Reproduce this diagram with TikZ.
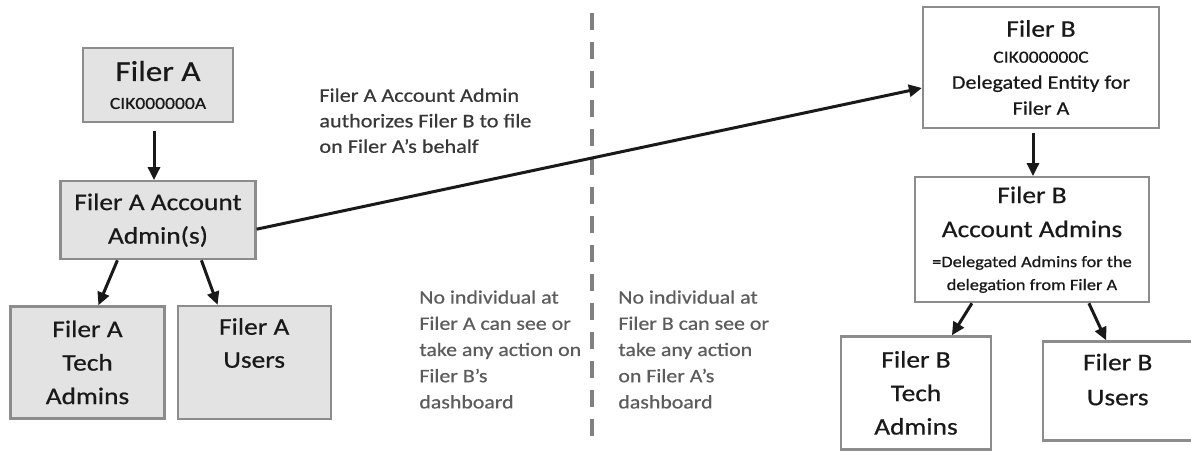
\documentclass[tikz,border=0pt]{standalone}
\usepackage{fontspec}
\setmainfont{Carlito}[FakeStretch=1.15, FakeBold=0.6]
\usetikzlibrary{arrows.meta,positioning}

\begin{document}
\begin{tikzpicture}[x=0.5pt, y=-0.5pt,
  box/.style={draw=black!45, line width=1.1pt, align=center, inner sep=0pt, text=black!90},
  boxA/.style={box, fill=black!11},
  boxB/.style={box, fill=white},
  btext/.style={align=center, inner sep=0pt, text=black!90},
  note/.style={align=left, inner sep=0pt, anchor=north west},
  arr/.style={-{Triangle[length=6.5pt,width=6pt]}, line width=1.5pt, black!90}]
\useasboundingbox (0,0) rectangle (1191,455);

\node[boxA, minimum width=75pt, minimum height=37pt, font=\fontsize{8.5pt}{14pt}\selectfont](filerA) at (158,85){{\fontsize{14.4pt}{14pt}\selectfont Filer A}\\CIK000000A};
\node[boxA, minimum width=97.5pt, minimum height=39pt, font=\fontsize{11.9pt}{16.75pt}\selectfont](acctA)[below = 28.5pt of filerA]{Filer A Account\\Admin(s)};
\node[boxA, minimum width=77pt, minimum height=56pt, font=\fontsize{11.9pt}{16.75pt}\selectfont](techA)[below = 22.5pt of acctA, xshift=-35.25pt]{Filer A\\Tech\\Admins};
\node[boxA, minimum width=76.5pt, minimum height=56.5pt](usersA)[right = 5.5pt of techA]{};
\node[btext, font=\fontsize{11.9pt}{16.5pt}\selectfont](usersAtxt)[below = 6.5pt of usersA.north]{Filer A\\Users};

\node[boxB, minimum width=118pt, minimum height=60.5pt, font=\fontsize{9.6pt}{13pt}\selectfont](filerB) at (1041,67.5){{\fontsize{11.9pt}{13pt}\selectfont Filer B}\\{\fontsize{8.5pt}{13pt}\selectfont CIK000000C}\\Delegated Entity for\\Filer A};
\node[boxB, minimum width=117pt, minimum height=62.5pt, font=\fontsize{8pt}{11.5pt}\selectfont](acctB)[below = 23.5pt of filerB, xshift=-4.5pt]{{\fontsize{11.9pt}{11.5pt}\selectfont Filer B}\\[5.5pt]{\fontsize{11.9pt}{11.5pt}\selectfont Account Admins}\\[3.5pt]=Delegated Admins for the\\delegation from Filer A};
\node[boxB, minimum width=75pt, minimum height=56.5pt, font=\fontsize{11.9pt}{16.75pt}\selectfont](techB)[below = 16pt of acctB, xshift=-58pt]{Filer B\\Tech\\Admins};
\node[boxB, minimum width=74.5pt, minimum height=49.5pt](usersB)[right = 25pt of techB, yshift=1pt]{};
\node[btext, font=\fontsize{11.9pt}{17.5pt}\selectfont](usersBtxt)[below = 6.5pt of usersB.north]{Filer B\\Users};

\node[note, text=black!78, font=\fontsize{9.65pt}{12.75pt}\selectfont](authnote) at (319,88){Filer A Account Admin\\authorizes Filer B to file\\on Filer A's behalf};
\node[note, text=black!64, font=\fontsize{9.5pt}{13.1pt}\selectfont](noteA) at (419,290){No individual at\\Filer A can see or\\take any action on\\Filer B's\\dashboard};
\node[note, text=black!64, font=\fontsize{9.5pt}{13.1pt}\selectfont](noteB) at (618,290){No individual at\\Filer B can see or\\take any action\\on Filer A's\\dashboard};

\coordinate (divtop) at (592,13);
\coordinate (divbot) at (592,442);
\draw[black!50, line width=2pt, dash pattern=on 8.5pt off 6pt] (divtop) -- (divbot);

\path[arr]
	([xshift=-2pt]filerA.south) edge [shorten <=4pt] ([xshift=-2pt]acctA.north)
	([xshift=29pt]acctA.south west) edge ([xshift=44.5pt]techA.north west)
	([xshift=71pt]acctA.south west) edge ([xshift=20.5pt]usersA.north west)
	([yshift=-4.5pt]acctA.east) edge ([yshift=-10.25pt]filerB.west)
	([xshift=-4pt]filerB.south) edge [shorten <=2pt] ([xshift=0.5pt]acctB.north)
	([xshift=29pt]acctB.south west) edge ([xshift=56pt]techB.north west)
	([xshift=87.5pt]acctB.south west) edge ([xshift=32pt]usersB.north west);
\end{tikzpicture}
\end{document}
